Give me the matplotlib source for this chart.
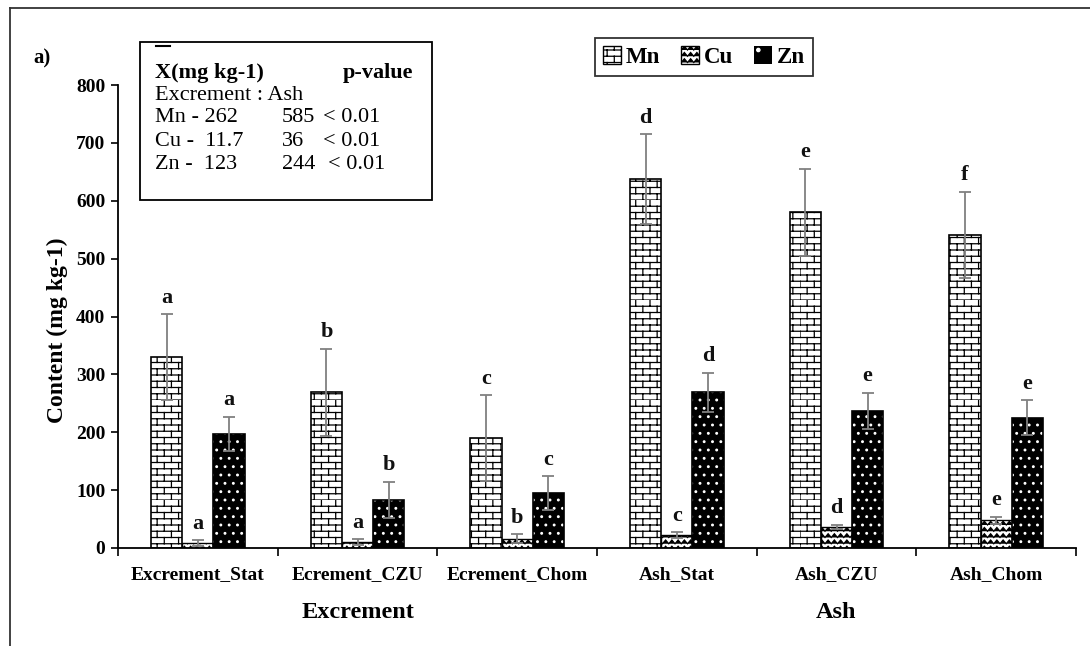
import warnings
import numpy as np
import matplotlib
matplotlib.use('Agg')
import matplotlib.pyplot as plt
from matplotlib import hatch as mhatch
from matplotlib.path import Path
from matplotlib.patches import Patch, Rectangle
from matplotlib.lines import Line2D

warnings.filterwarnings('ignore')

# data
categories = ['Excrement_Stat', 'Ecrement_CZU', 'Ecrement_Chom', 'Ash_Stat', 'Ash_CZU', 'Ash_Chom']
mn = [330, 269, 190, 637, 580, 541]
cu = [8, 10, 16, 22, 36, 48]
zn = [197, 83, 95, 269, 237, 225]
mn_err = [74, 75, 74, 78, 75, 74]
cu_err = [5, 5, 8, 5, 4, 6]
zn_err = [30, 31, 29, 34, 31, 30]
mn_letters = ['a', 'b', 'c', 'd', 'e', 'f']
cu_letters = ['a', 'a', 'b', 'c', 'd', 'e']
zn_letters = ['a', 'b', 'c', 'd', 'e', 'e']
groups = ['Excrement', 'Ash']


# custom hatch patterns: brick ('b') and zigzag ('z')
class BrickHatch(mhatch.HatchPatternBase):
    def __init__(self, hatch, density):
        n = hatch.count('b')
        self.rows = 16 * n
        self.cols = 7
        self.num_vertices = (self.rows + self.rows * self.cols) * 2 if n else 0

    def set_vertices_and_codes(self, vertices, codes):
        segs = []
        for i in range(self.rows):
            y0 = i / self.rows
            y1 = (i + 1) / self.rows
            segs.append(((0, y0), (1, y0)))
            for k in range(self.cols):
                x = (k + 0.5 * (i % 2)) / self.cols
                segs.append(((x, y0), (x, y1)))
        v = np.array(segs).reshape(-1, 2)
        vertices[:] = v
        codes[0::2] = Path.MOVETO
        codes[1::2] = Path.LINETO


class ZigzagHatch(mhatch.HatchPatternBase):
    def __init__(self, hatch, density):
        n = hatch.count('z')
        self.rows = 16 * n
        self.zigs = 16
        self.per_row = 2 * self.zigs + 1
        self.num_vertices = self.rows * self.per_row if n else 0

    def set_vertices_and_codes(self, vertices, codes):
        pts = []
        cds = []
        for i in range(self.rows):
            y0 = i / self.rows
            h = 0.6 / self.rows
            for j in range(self.per_row):
                x = j / (2 * self.zigs)
                y = y0 + (h if j % 2 else 0)
                pts.append((x, y))
                cds.append(Path.MOVETO if j == 0 else Path.LINETO)
        vertices[:] = np.array(pts)
        codes[:] = cds


mhatch._hatch_types.append(BrickHatch)
mhatch._hatch_types.append(ZigzagHatch)

plt.rcParams['font.family'] = ['Liberation Serif', 'DejaVu Serif']
plt.rcParams['hatch.linewidth'] = 0.9

W, H = 1090, 646
fig = plt.figure(figsize=(W / 100, H / 100), dpi=100)


def fx(px):
    return px / W


def fy(py):
    return 1 - py / H


ax = fig.add_axes([fx(118), fy(548), fx(1076) - fx(118), fy(85) - fy(548)])

x = np.arange(len(categories))
bw = 0.195

ax.bar(x - bw, mn, bw, color='white', edgecolor='black', hatch='b', linewidth=1.2, zorder=2)
ax.bar(x, cu, bw, color='white', edgecolor='black', hatch='z', linewidth=1.0, zorder=2)
ax.bar(x + bw, zn, bw, color='black', edgecolor='white', hatch='..', linewidth=0, zorder=2)
ax.bar(x + bw, zn, bw, fill=False, edgecolor='black', linewidth=1.2, zorder=3)

for off, vals, errs, letters in [(-bw, mn, mn_err, mn_letters),
                                 (0, cu, cu_err, cu_letters),
                                 (bw, zn, zn_err, zn_letters)]:
    ax.errorbar(x + off, vals, yerr=errs, fmt='none', ecolor='#808080',
                elinewidth=1.3, capsize=4, capthick=1.3, zorder=4)
    for xi, v, e, l in zip(x + off, vals, errs, letters):
        ax.text(xi, v + e + 20, l, ha='center', va='baseline',
                fontsize=16, fontweight='bold', color='#111111')

ax.set_xlim(-0.5, len(categories) - 0.5)
ax.set_ylim(0, 800)
ax.set_yticks(range(0, 801, 100))
ax.spines['top'].set_visible(False)
ax.spines['right'].set_visible(False)
ax.spines['left'].set_linewidth(1.3)
ax.spines['bottom'].set_linewidth(1.3)
ax.tick_params(axis='y', direction='out', length=5, width=1.2, labelsize=14, pad=4)
for t in ax.get_yticklabels():
    t.set_fontweight('bold')

ax.set_xticks(x)
ax.set_xticklabels(categories, fontsize=14, fontweight='bold')
ax.tick_params(axis='x', which='major', length=0, pad=13)
ax.set_xticks(np.arange(len(categories) + 1) - 0.5, minor=True)
ax.tick_params(axis='x', which='minor', direction='out', length=6, width=1.2)

fig.text(fx(57), fy(330), 'Content (mg kg-1)', rotation=90, ha='center', va='center',
         fontsize=17, fontweight='bold')

# group labels
ax.text(1, -0.14, groups[0], transform=ax.get_xaxis_transform(), ha='center', va='center',
        fontsize=17.5, fontweight='bold')
ax.text(4, -0.14, groups[1], transform=ax.get_xaxis_transform(), ha='center', va='center',
        fontsize=17.5, fontweight='bold')

fig.text(fx(42), fy(58), 'a)', ha='center', va='center', fontsize=15, fontweight='bold')

# inset table box
fs = 16
fig.add_artist(Rectangle((fx(140), fy(200)), fx(432) - fx(140), fy(42) - fy(200),
                         transform=fig.transFigure, fill=False, edgecolor='black', linewidth=1.3))
fig.add_artist(Line2D([fx(156), fx(170)], [fy(46), fy(46)], transform=fig.transFigure,
                      color='black', linewidth=1.5))
fig.text(fx(155), fy(73), 'X(mg kg-1)', ha='left', va='center', fontsize=fs, fontweight='bold')
fig.text(fx(343), fy(73), 'p-value', ha='left', va='center', fontsize=fs, fontweight='bold')
fig.text(fx(155), fy(95), 'Excrement : Ash', ha='left', va='center', fontsize=fs)
rows = [('Mn - 262', '585', '< 0.01', 323, 118),
        ('Cu -  11.7', '36', '< 0.01', 323, 141),
        ('Zn -  123', '244', '< 0.01', 328, 164)]
for a, b, c, cx, yy in rows:
    fig.text(fx(155), fy(yy), a, ha='left', va='center', fontsize=fs)
    fig.text(fx(282), fy(yy), b, ha='left', va='center', fontsize=fs)
    fig.text(fx(cx), fy(yy), c, ha='left', va='center', fontsize=fs)

# legend
handles = [Patch(facecolor='white', edgecolor='black', hatch='b', linewidth=1.0),
           Patch(facecolor='white', edgecolor='black', hatch='z', linewidth=1.0),
           Patch(facecolor='black', edgecolor='white', hatch='.', linewidth=0)]
leg = fig.legend(handles, ['Mn', 'Cu', 'Zn'], loc='upper left', bbox_to_anchor=(fx(595), fy(38)),
                 ncol=3, frameon=True, fancybox=False, edgecolor='black', handlelength=0.8,
                 handleheight=0.8, handletextpad=0.2, columnspacing=0.9, borderpad=0.35,
                 borderaxespad=0, prop={'size': 16.5, 'weight': 'bold'})
leg.get_frame().set_linewidth(1.3)

# outer frame (top and left visible)
fig.add_artist(Line2D([fx(10), 1.0], [fy(8), fy(8)], transform=fig.transFigure,
                      color='#333333', linewidth=1.3))
fig.add_artist(Line2D([fx(10), fx(10)], [fy(8), 0.0], transform=fig.transFigure,
                      color='#333333', linewidth=1.3))

fig.savefig('out.png', dpi=100)
